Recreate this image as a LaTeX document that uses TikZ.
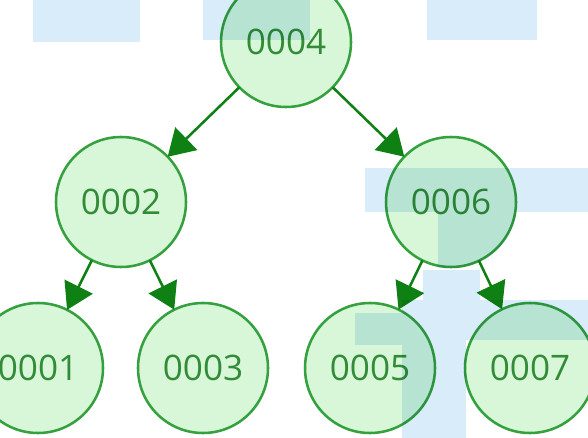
\documentclass[tikz,border=0pt]{standalone}
\usepackage{fontspec}
\setmainfont{Open Sans}
\usetikzlibrary{arrows.meta}

\definecolor{keyline}{RGB}{52,160,62}
\definecolor{keyfill}{RGB}{216,246,216}
\definecolor{keytext}{RGB}{50,140,55}
\definecolor{linkgreen}{RGB}{15,128,20}
\definecolor{backblue}{RGB}{216,236,249}

\begin{document}
\begin{tikzpicture}[
  keynode/.style={circle,draw=keyline,fill=keyfill,line width=1.8pt,
    minimum size=3.25cm,inner sep=0pt,outer sep=0pt,text=keytext,
    font=\fontsize{25}{25}\selectfont},
  link/.style={draw=linkgreen,line width=1.8pt,
    -{Triangle[length=0.65cm,width=0.78cm]}}
]

\clip (0,0) rectangle (14.7,-10.95);
\fill[white] (0,0) rectangle (14.7,-10.95);

%racine
\node[keynode] (n4) at (7.15,-1.05) {0004};

%niveau 2
\node[keynode] (n2) at (3.025,-5.05) {0002};
\node[keynode] (n6) at (11.275,-5.05) {0006};

%feuilles
\node[keynode] (n1) at (0.95,-9.2) {0001};
\node[keynode] (n3) at (5.075,-9.2) {0003};
\node[keynode] (n5) at (9.25,-9.2) {0005};
\node[keynode] (n7) at (13.25,-9.2) {0007};

\path[link] (n4) -- (n2);
\path[link] (n4) -- (n6);
\path[link] (n2) -- (n1);
\path[link] (n2) -- (n3);
\path[link] (n6) -- (n5);
\path[link] (n6) -- (n7);

%fond bleu
\begin{scope}[blend mode=multiply]
\fill[backblue] (0.825,0) rectangle (3.5,-1.05);
\fill[backblue] (5.075,0) rectangle (7.75,-1.0);
\fill[backblue] (10.675,0) rectangle (13.425,-1.0);
\fill[backblue] (9.125,-4.2) rectangle (14.7,-5.3);
\begin{scope}
\clip (n6.center) circle (1.66cm);
\fill[backblue] (10.95,-5.3) rectangle (12.9,-6.75);
\end{scope}
\fill[backblue] (10.575,-6.75) rectangle (12.0,-7.5);
\fill[backblue] (10.05,-7.5) rectangle (11.65,-10.95);
\fill[backblue] (8.875,-7.825) rectangle (10.05,-8.625);
\fill[backblue] (11.65,-7.5) rectangle (14.7,-8.5);
\end{scope}

\end{tikzpicture}
\end{document}
